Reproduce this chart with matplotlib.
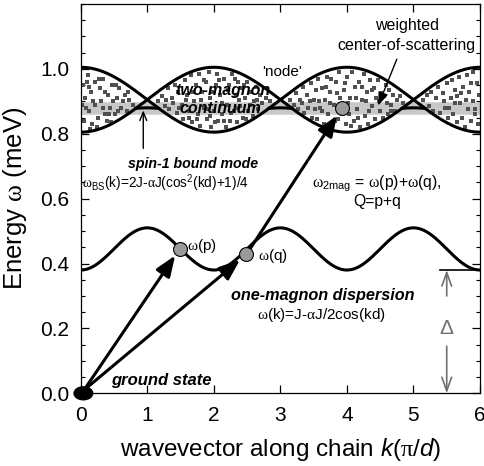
import numpy as np
import matplotlib
matplotlib.use("Agg")
import matplotlib.pyplot as plt
from matplotlib.patches import Ellipse

plt.rcParams['font.family'] = ['Liberation Sans', 'DejaVu Sans']
plt.rcParams['mathtext.fontset'] = 'custom'
plt.rcParams['mathtext.rm'] = 'Liberation Sans'
plt.rcParams['mathtext.it'] = 'Liberation Sans:italic'
plt.rcParams['mathtext.bf'] = 'Liberation Sans:bold'
plt.rcParams['mathtext.sf'] = 'Liberation Serif'

# dispersion parameters (energies in meV, k in pi/d)
one_mag_center = 0.445
one_mag_amp = 0.065
two_mag_center = 0.905
two_mag_amp = 0.100
band_level = 0.88

# marked states
p_pt = (1.49, 0.446)
q_pt = (2.49, 0.428)
sum_pt = (3.92, 0.878)

x_ticks = [0, 1, 2, 3, 4, 5, 6]
y_ticks = [0.0, 0.2, 0.4, 0.6, 0.8, 1.0]

# scattering dots inside the two-magnon continuum
dots = [
    # lobe around k=0
    (0.03, 0.95), (0.05, 0.84), (0.07, 0.91), (0.11, 0.98), (0.12, 0.87), (0.15, 0.93),
    (0.17, 0.83), (0.21, 0.96), (0.22, 0.89), (0.26, 0.85), (0.29, 0.94), (0.31, 0.90),
    (0.34, 0.97), (0.36, 0.86), (0.41, 0.92), (0.44, 0.88), (0.47, 0.95), (0.51, 0.86),
    (0.54, 0.91), (0.58, 0.94), (0.61, 0.88), (0.66, 0.92), (0.69, 0.87), (0.73, 0.905),
    (0.79, 0.89), (0.08, 0.88), (0.19, 0.90), (0.24, 0.82), (0.33, 0.88), (0.39, 0.84),
    (0.49, 0.90), (0.53, 0.95), (0.63, 0.90), (0.09, 0.96), (0.14, 0.815), (0.27, 0.97),
    (0.42, 0.86), (0.56, 0.87), (0.71, 0.93), (0.02, 0.89), (0.13, 0.945), (0.37, 0.93),
    (0.46, 0.835),
    # lobe around k=2
    (1.16, 0.90), (1.22, 0.915), (1.26, 0.885), (1.31, 0.94), (1.33, 0.875), (1.37, 0.91),
    (1.41, 0.95), (1.44, 0.865), (1.46, 0.93), (1.52, 0.89), (1.54, 0.845), (1.56, 0.965),
    (1.60, 0.92), (1.63, 0.87), (1.65, 0.98), (1.67, 0.835), (1.70, 0.90), (1.73, 0.95),
    (1.76, 0.86), (1.78, 0.985), (1.80, 0.825), (1.83, 0.93), (1.86, 0.88), (1.88, 0.96),
    (1.90, 0.845), (1.93, 0.99), (1.95, 0.91), (1.96, 0.82), (2.00, 0.87), (2.03, 0.95),
    (2.05, 0.985), (2.06, 0.84), (2.10, 0.92), (2.13, 0.86), (2.16, 0.97), (2.18, 0.82),
    (2.20, 0.89), (2.23, 0.95), (2.25, 0.84), (2.28, 0.985), (2.30, 0.87), (2.33, 0.92),
    (2.35, 0.835), (2.37, 0.96), (2.40, 0.885), (2.42, 0.94), (2.44, 0.85), (2.47, 0.91),
    (2.50, 0.96), (2.52, 0.87), (2.56, 0.93), (2.59, 0.855), (2.61, 0.90), (2.63, 0.945),
    (2.67, 0.875), (2.70, 0.92), (2.73, 0.895), (2.78, 0.91), (2.84, 0.90),
    (1.48, 0.88), (1.58, 0.905), (1.69, 0.93), (1.74, 0.845), (1.85, 0.965), (1.91, 0.875),
    (1.98, 0.93), (2.02, 0.835), (2.08, 0.965), (2.12, 0.895), (2.21, 0.935), (2.26, 0.865),
    (2.32, 0.97), (2.38, 0.905), (2.45, 0.95), (2.54, 0.89), (2.65, 0.905), (1.39, 0.895),
    (1.28, 0.905), (1.62, 0.85), (1.81, 0.905), (1.94, 0.855), (2.15, 0.84), (2.36, 0.88),
    (2.49, 0.845),
    # lobe around k=4
    (3.15, 0.905), (3.20, 0.89), (3.24, 0.925), (3.27, 0.875), (3.30, 0.905), (3.34, 0.945),
    (3.36, 0.865), (3.40, 0.92), (3.42, 0.88), (3.46, 0.955), (3.48, 0.85), (3.50, 0.905),
    (3.53, 0.935), (3.55, 0.845), (3.57, 0.97), (3.60, 0.88), (3.62, 0.94), (3.65, 0.83),
    (3.67, 0.905), (3.70, 0.975), (3.72, 0.86), (3.75, 0.93), (3.78, 0.82), (3.80, 0.89),
    (3.83, 0.96), (3.86, 0.845), (3.88, 0.99), (3.90, 0.91), (3.95, 0.935), (3.98, 0.83),
    (4.00, 0.975), (4.03, 0.86), (4.05, 0.91), (4.08, 0.99), (4.10, 0.84), (4.12, 0.945),
    (4.15, 0.875), (4.18, 0.96), (4.20, 0.82), (4.23, 0.905), (4.25, 0.985), (4.27, 0.855),
    (4.30, 0.93), (4.32, 0.83), (4.35, 0.965), (4.37, 0.885), (4.40, 0.94), (4.42, 0.845),
    (4.44, 0.91), (4.46, 0.965), (4.50, 0.87), (4.52, 0.925), (4.54, 0.85), (4.58, 0.95),
    (4.60, 0.895), (4.62, 0.86), (4.64, 0.935), (4.67, 0.89), (4.69, 0.92), (4.72, 0.87),
    (4.75, 0.905), (4.80, 0.915), (4.85, 0.895),
    (3.44, 0.90), (3.58, 0.90), (3.63, 0.87), (3.69, 0.945), (3.74, 0.895), (3.82, 0.84),
    (3.85, 0.925), (3.92, 0.86), (3.97, 0.955), (4.02, 0.895), (4.06, 0.825), (4.13, 0.91),
    (4.16, 0.85), (4.22, 0.945), (4.28, 0.90), (4.33, 0.87), (4.38, 0.935), (4.48, 0.90),
    (4.56, 0.915), (3.52, 0.875), (3.32, 0.895), (4.66, 0.87), (3.76, 0.97),
    # lobe around k=6
    (5.14, 0.905), (5.20, 0.92), (5.23, 0.885), (5.27, 0.93), (5.30, 0.87), (5.34, 0.91),
    (5.37, 0.945), (5.40, 0.865), (5.44, 0.925), (5.47, 0.88), (5.50, 0.955), (5.52, 0.85),
    (5.56, 0.91), (5.58, 0.965), (5.60, 0.86), (5.63, 0.935), (5.65, 0.835), (5.68, 0.975),
    (5.70, 0.895), (5.73, 0.85), (5.75, 0.945), (5.77, 0.82), (5.80, 0.98), (5.82, 0.875),
    (5.84, 0.93), (5.87, 0.84), (5.89, 0.99), (5.90, 0.90), (5.93, 0.86), (5.95, 0.955),
    (5.97, 0.83), (5.98, 0.92), (5.46, 0.90), (5.62, 0.895), (5.71, 0.925), (5.79, 0.905),
    (5.86, 0.955), (5.92, 0.875), (5.54, 0.88), (5.66, 0.915),
]

k = np.linspace(0, 6, 601)
w1 = one_mag_center - one_mag_amp * np.cos(np.pi * k)
c = np.cos(np.pi * k / 2)
w2_a = two_mag_center + two_mag_amp * c
w2_b = two_mag_center - two_mag_amp * c
w_bs = two_mag_center - two_mag_amp * (c ** 2 + 1) / 4
w_bs = np.where(w_bs < two_mag_center - two_mag_amp * np.abs(c), w_bs, np.nan)

fig = plt.figure(figsize=(4.85, 4.66), dpi=100)
ax = fig.add_axes([0.1664, 0.156, 0.8233, 0.8354])

ax.axhline(band_level, color='#c8c8c8', lw=9, zorder=1)
dx, dy = zip(*dots)
ax.plot(dx, dy, 's', ms=2.5, color='#505050', mew=0, zorder=2)

ax.plot(k, w1, color='k', lw=2.2, zorder=3)
ax.plot(k, w2_a, color='k', lw=2.2, zorder=3)
ax.plot(k, w2_b, color='k', lw=2.2, zorder=3)
ax.plot(k, w_bs, color='k', lw=2.2, zorder=3)

# arrows from ground state
head = dict(arrowstyle='-|>,head_length=0.9,head_width=0.35', color='k', lw=2.2,
            shrinkA=0, shrinkB=6, mutation_scale=14)
ax.annotate('', xy=p_pt, xytext=(0.05, 0.01), arrowprops=head, zorder=4)
ax.annotate('', xy=q_pt, xytext=(0.05, 0.01), arrowprops=head, zorder=4)
ax.annotate('', xy=sum_pt, xytext=q_pt, arrowprops=dict(head, shrinkA=5), zorder=4)

for pt in (p_pt, q_pt, sum_pt):
    ax.plot(*pt, 'o', ms=10, mfc='#9a9a9a', mec='k', mew=0.8, zorder=5)

ax.add_patch(Ellipse((0.04, 0.0), 0.28, 0.04, color='k', clip_on=False, zorder=6))

# gap
gap = one_mag_center - one_mag_amp
ax.plot([5.4, 6.0], [gap, gap], color='k', lw=1.2)
gstyle = dict(arrowstyle='->,head_length=0.7,head_width=0.25', color='#707070', lw=1.2,
              shrinkA=0, shrinkB=0, mutation_scale=14)
ax.annotate('', xy=(5.5, gap), xytext=(5.5, 0.30), arrowprops=gstyle)
ax.annotate('', xy=(5.5, 0.0), xytext=(5.5, 0.145), arrowprops=gstyle)
ax.text(5.5, 0.2, 'Δ', color='#707070', fontsize=15, ha='center', va='center')

# annotations
bi = dict(fontweight='bold', style='italic', ha='center', va='center')
ax.text(2.13, 0.932, 'two-magnon', fontsize=11.5, **bi)
ax.text(2.1, 0.878, 'continuum', fontsize=11.5, **bi)
ax.text(1.69, 0.708, 'spin-1 bound mode', fontsize=10.2, **bi)
ax.text(3.63, 0.303, 'one-magnon dispersion', fontsize=11.7, **bi)
ax.text(1.21, 0.04, 'ground state', fontsize=12, **bi)

ax.text(0.02, 0.647, r'$\mathsf{\omega}_{\rm BS}$(k)=2J-$\mathsf{\alpha}$J(cos$^{\rm 2}$(kd)+1)/4',
        fontsize=9.8, ha='left', va='center')
ax.text(4.45, 0.647, r'$\mathsf{\omega}_{\rm 2mag}$ = $\mathsf{\omega}$(p)+$\mathsf{\omega}$(q),',
        fontsize=11.3, ha='center', va='center')
ax.text(4.45, 0.59, 'Q=p+q', fontsize=11.3, ha='center', va='center')
ax.text(3.61, 0.242, r'$\mathsf{\omega}$(k)=J-$\mathsf{\alpha}$J/2cos(kd)', fontsize=11,
        ha='center', va='center')
ax.text(1.6, 0.453, r'$\mathsf{\omega}$(p)', fontsize=11, ha='left', va='center')
ax.text(2.67, 0.422, r'$\mathsf{\omega}$(q)', fontsize=11, ha='left', va='center')
ax.text(3.02, 0.99, "'node'", fontsize=11, ha='center', va='center')
ax.text(4.9, 1.133, 'weighted', fontsize=11.5, ha='center', va='center')
ax.text(4.9, 1.072, 'center-of-scattering', fontsize=11.5, ha='center', va='center')

ax.annotate('', xy=(4.47, 0.887), xytext=(4.75, 1.03),
            arrowprops=dict(arrowstyle='-|>,head_length=0.8,head_width=0.3', color='k',
                            lw=1.0, shrinkA=0, shrinkB=0, mutation_scale=10))
ax.annotate('', xy=(0.94, 0.872), xytext=(0.94, 0.755),
            arrowprops=dict(arrowstyle='->,head_length=0.6,head_width=0.25', color='k',
                            lw=1.0, shrinkA=0, shrinkB=0, mutation_scale=10))

ax.set_xlim(0, 6)
ax.set_ylim(0, 1.2)
ax.set_xticks(x_ticks)
ax.set_yticks(y_ticks)
ax.set_yticklabels([f'{v:.1f}' for v in y_ticks])
ax.set_yticks(np.arange(0, 1.2001, 0.05), minor=True)
ax.tick_params(which='both', direction='in', top=True, right=True, labelsize=15)
ax.tick_params(which='major', length=6, width=0.9)
ax.tick_params(which='minor', length=3, width=0.8)
ax.tick_params(axis='x', pad=9)
ax.tick_params(axis='y', pad=8)
for s in ax.spines.values():
    s.set_linewidth(0.9)

ax.set_xlabel(r'wavevector along chain $k$($\mathsf{\pi}$/$d$)', fontsize=17.5, labelpad=8)
ax.set_ylabel(r'Energy $\mathsf{\omega}$ (meV)', fontsize=18.5, labelpad=8)

fig.savefig('out.png', dpi=100)
